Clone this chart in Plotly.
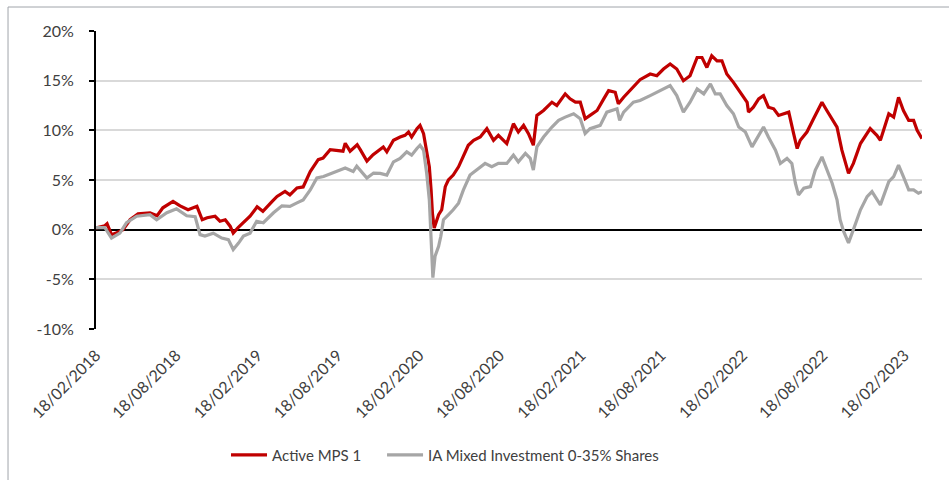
import plotly.graph_objects as go

# Cumulative performance (%), Active MPS 1
mps_dates = [
    "2018-02-18", "2018-03-10", "2018-03-15", "2018-03-25", "2018-04-06", "2018-04-20",
    "2018-05-06", "2018-05-24", "2018-06-20", "2018-07-06", "2018-07-19", "2018-08-11",
    "2018-08-27", "2018-09-14", "2018-10-04", "2018-10-16", "2018-10-27", "2018-11-14",
    "2018-11-25", "2018-12-07", "2018-12-18", "2018-12-25", "2019-01-05", "2019-01-16",
    "2019-02-01", "2019-02-17", "2019-03-02", "2019-03-23", "2019-04-03", "2019-04-21",
    "2019-05-02", "2019-05-18", "2019-06-01", "2019-06-17", "2019-07-05", "2019-07-16",
    "2019-08-01", "2019-08-30", "2019-09-04", "2019-09-15", "2019-10-01", "2019-10-08",
    "2019-10-23", "2019-11-06", "2019-11-22", "2019-11-29", "2019-12-07", "2019-12-22",
    "2020-01-06", "2020-01-17", "2020-01-25", "2020-02-01", "2020-02-13", "2020-02-20",
    "2020-02-28", "2020-03-06", "2020-03-12", "2020-03-16", "2020-03-19", "2020-03-23",
    "2020-04-02", "2020-04-09", "2020-04-17", "2020-04-24", "2020-05-05", "2020-05-17",
    "2020-05-28", "2020-06-08", "2020-06-20", "2020-07-05", "2020-07-20", "2020-08-04",
    "2020-08-15", "2020-08-26", "2020-09-03", "2020-09-18", "2020-09-29", "2020-10-11",
    "2020-10-22", "2020-11-02", "2020-11-10", "2020-11-25", "2020-12-14", "2020-12-25",
    "2021-01-13", "2021-01-24", "2021-02-05", "2021-02-16", "2021-02-27", "2021-03-10",
    "2021-03-26", "2021-04-10", "2021-04-21", "2021-05-06", "2021-05-13", "2021-05-25",
    "2021-06-16", "2021-07-01", "2021-07-24", "2021-08-08", "2021-08-23", "2021-09-07",
    "2021-09-22", "2021-10-07", "2021-10-22", "2021-11-07", "2021-11-18", "2021-11-29",
    "2021-12-10", "2021-12-22", "2022-01-02", "2022-01-13", "2022-01-28", "2022-02-12",
    "2022-02-28", "2022-03-03", "2022-03-14", "2022-03-26", "2022-04-06", "2022-04-17",
    "2022-04-29", "2022-05-10", "2022-05-21", "2022-06-02", "2022-06-13", "2022-06-21",
    "2022-06-28", "2022-07-13", "2022-07-28", "2022-08-16", "2022-08-27", "2022-09-08",
    "2022-09-19", "2022-09-30", "2022-10-08", "2022-10-15", "2022-10-26", "2022-11-11",
    "2022-12-03", "2022-12-18", "2022-12-26", "2023-01-14", "2023-01-25", "2023-02-05",
    "2023-02-16", "2023-02-28", "2023-03-11", "2023-03-19", "2023-03-30",
]
mps_values = [
    0.17, 0.4, 0.6, -0.5, -0.3, 0.0,
    1.0, 1.6, 1.7, 1.4, 2.2, 2.85,
    2.4, 2.0, 2.35, 1.0, 1.2, 1.35,
    0.85, 1.0, 0.35, -0.35, 0.2, 0.7,
    1.35, 2.3, 1.85, 2.85, 3.35, 3.85,
    3.5, 4.2, 4.3, 5.85, 7.05, 7.2,
    8.05, 7.9, 8.7, 7.9, 8.55, 8.05,
    6.9, 7.55, 8.05, 8.33, 7.83, 9.0,
    9.33, 9.5, 9.83, 9.33, 10.17, 10.5,
    9.67, 8.0, 6.33, 4.0, 1.67, 0.17,
    1.5, 2.0, 4.33, 5.0, 5.5, 6.33,
    7.5, 8.5, 9.0, 9.33, 10.17, 9.0,
    9.5, 9.0, 8.67, 10.67, 9.83, 10.5,
    9.67, 8.5, 11.5, 12.0, 12.83, 12.5,
    13.67, 13.17, 12.83, 12.83, 11.17, 11.5,
    12.0, 13.17, 14.0, 13.83, 12.67, 13.33,
    14.33, 15.1, 15.67, 15.5, 16.17, 16.67,
    16.17, 15.0, 15.5, 17.33, 17.33, 16.33,
    17.5, 17.0, 17.0, 15.67, 14.83, 13.83,
    12.83, 11.83, 12.33, 13.17, 13.5, 12.33,
    12.17, 11.5, 11.67, 11.83, 9.67, 8.17,
    9.0, 9.83, 11.17, 12.83, 12.0, 11.17,
    10.33, 8.0, 6.83, 5.67, 6.67, 8.67,
    10.17, 9.5, 9.0, 11.67, 11.33, 13.33,
    12.0, 11.0, 11.0, 10.0, 9.17,
]

# Cumulative performance (%), IA Mixed Investment 0-35% Shares sector
ia_dates = [
    "2018-02-18", "2018-03-10", "2018-03-25", "2018-04-13", "2018-04-28", "2018-05-21",
    "2018-06-20", "2018-07-05", "2018-07-28", "2018-08-19", "2018-09-11", "2018-09-30",
    "2018-10-11", "2018-10-22", "2018-11-10", "2018-11-29", "2018-12-14", "2018-12-25",
    "2019-01-06", "2019-01-17", "2019-02-01", "2019-02-16", "2019-03-03", "2019-03-26",
    "2019-04-14", "2019-05-02", "2019-05-18", "2019-06-01", "2019-06-17", "2019-07-02",
    "2019-07-17", "2019-08-08", "2019-09-04", "2019-09-22", "2019-09-30", "2019-10-23",
    "2019-11-07", "2019-11-22", "2019-12-07", "2019-12-22", "2020-01-06", "2020-01-21",
    "2020-02-01", "2020-02-13", "2020-02-20", "2020-02-28", "2020-03-06", "2020-03-12",
    "2020-03-16", "2020-03-20", "2020-03-25", "2020-04-02", "2020-04-07", "2020-04-13",
    "2020-04-24", "2020-05-05", "2020-05-17", "2020-05-28", "2020-06-12", "2020-06-27",
    "2020-07-16", "2020-07-31", "2020-08-15", "2020-09-03", "2020-09-18", "2020-09-29",
    "2020-10-15", "2020-10-26", "2020-11-02", "2020-11-10", "2020-11-25", "2020-12-14",
    "2020-12-29", "2021-01-13", "2021-02-01", "2021-02-16", "2021-02-27", "2021-03-10",
    "2021-04-02", "2021-04-17", "2021-05-10", "2021-05-16", "2021-05-25", "2021-06-16",
    "2021-07-01", "2021-07-24", "2021-08-15", "2021-09-07", "2021-09-22", "2021-10-07",
    "2021-10-22", "2021-11-07", "2021-11-22", "2021-12-07", "2021-12-18", "2021-12-29",
    "2022-01-13", "2022-01-28", "2022-02-09", "2022-02-24", "2022-03-11", "2022-03-22",
    "2022-04-06", "2022-04-17", "2022-05-03", "2022-05-14", "2022-05-29", "2022-06-09",
    "2022-06-17", "2022-06-24", "2022-07-06", "2022-07-21", "2022-08-01", "2022-08-16",
    "2022-08-27", "2022-09-08", "2022-09-19", "2022-09-26", "2022-10-04", "2022-10-15",
    "2022-10-26", "2022-11-11", "2022-11-26", "2022-12-07", "2022-12-26", "2023-01-14",
    "2023-01-25", "2023-02-05", "2023-02-16", "2023-02-28", "2023-03-11", "2023-03-22",
    "2023-03-30",
]
ia_values = [
    0.2, 0.2, -0.85, -0.35, 0.7, 1.35,
    1.5, 1.0, 1.7, 2.1, 1.4, 1.3,
    -0.5, -0.65, -0.35, -0.85, -1.0, -2.0,
    -1.35, -0.65, -0.35, 0.85, 0.7, 1.7,
    2.4, 2.35, 2.7, 3.0, 4.0, 5.2,
    5.35, 5.7, 6.2, 5.85, 6.4, 5.2,
    5.7, 5.67, 5.5, 6.83, 7.17, 7.83,
    7.5, 8.17, 8.5, 8.0, 5.67, 3.0,
    -0.33, -4.83, -2.67, -1.67, -0.67, 1.0,
    1.5, 2.0, 2.67, 4.0, 5.5, 6.0,
    6.67, 6.33, 6.67, 6.67, 7.5, 6.83,
    7.67, 7.17, 6.0, 8.33, 9.33, 10.33,
    11.0, 11.33, 11.67, 11.17, 9.67, 10.17,
    10.5, 11.83, 12.17, 11.0, 11.83, 12.83,
    13.0, 13.5, 14.0, 14.5, 13.5, 11.83,
    12.83, 14.17, 13.67, 14.67, 13.67, 13.67,
    12.5, 11.67, 10.33, 9.83, 8.33, 9.17,
    10.33, 9.33, 8.0, 6.67, 7.17, 6.67,
    4.67, 3.5, 4.17, 4.33, 6.0, 7.33,
    6.0, 4.67, 3.0, 1.0, -0.17, -1.33,
    0.0, 2.0, 3.33, 3.83, 2.5, 4.83,
    5.33, 6.5, 5.33, 4.0, 4.0, 3.67,
    3.83,
]

# Axis ticks
x_tick_dates = [
    "2018-02-18", "2018-08-18", "2019-02-18", "2019-08-18", "2020-02-18", "2020-08-18",
    "2021-02-18", "2021-08-18", "2022-02-18", "2022-08-18", "2023-02-18",
]
x_tick_labels = [
    "18/02/2018", "18/08/2018", "18/02/2019", "18/08/2019", "18/02/2020", "18/08/2020",
    "18/02/2021", "18/08/2021", "18/02/2022", "18/08/2022", "18/02/2023",
]
y_tick_values = [-10, -5, 0, 5, 10, 15, 20]
y_tick_labels = ["-10%", "-5%", "0%", "5%", "10%", "15%", "20%"]

FONT = "Lato, Calibri, Carlito, sans-serif"
TEXT = "#404040"

fig = go.Figure()
fig.add_trace(go.Scatter(
    x=mps_dates, y=mps_values, mode="lines", name="Active MPS 1",
    line=dict(color="#C00000", width=3.2), legend="legend",
))
fig.add_trace(go.Scatter(
    x=ia_dates, y=ia_values, mode="lines", name="IA Mixed Investment 0-35% Shares",
    line=dict(color="#A6A6A6", width=3.2), legend="legend2",
))

legend_style = dict(
    orientation="h", xanchor="left",
    yref="container", y=0.052, yanchor="middle",
    font=dict(family=FONT, size=15, color=TEXT),
    itemwidth=36, bgcolor="rgba(0,0,0,0)",
)

fig.update_layout(
    width=949, height=480,
    margin=dict(l=96, r=27, t=31, b=151),
    paper_bgcolor="white", plot_bgcolor="white",
    font=dict(family=FONT, color=TEXT, size=16),
    showlegend=True,
    legend=dict(x=0.1574, **legend_style),
    legend2=dict(x=0.3463, **legend_style),
    shapes=[dict(
        type="rect", xref="paper", yref="paper",
        x0=-0.1065, x1=1.06, y0=-0.7, y1=1.0805,
        line=dict(color="#A0A4AA", width=1), fillcolor="rgba(0,0,0,0)",
        layer="below",
    )],
)

fig.update_xaxes(
    type="date", range=["2018-02-18", "2023-03-30"],
    tickmode="array", tickvals=x_tick_dates, ticktext=x_tick_labels,
    tickangle=-45, showgrid=False, showline=False, zeroline=False,
    ticks="", ticklabelstandoff=13, automargin=False,
    tickfont=dict(family=FONT, size=16, color=TEXT),
)
fig.update_yaxes(
    range=[-10, 20], tickmode="array", tickvals=y_tick_values, ticktext=y_tick_labels,
    showgrid=True, gridcolor="#D9D9D9", gridwidth=1.5,
    zeroline=True, zerolinecolor="#000000", zerolinewidth=2,
    showline=True, linecolor="#000000", linewidth=2,
    ticks="outside", ticklen=5, tickwidth=2, tickcolor="#000000",
    ticklabelstandoff=12, automargin=False,
    tickfont=dict(family=FONT, size=16, color=TEXT),
)

fig.write_html("out.html")
